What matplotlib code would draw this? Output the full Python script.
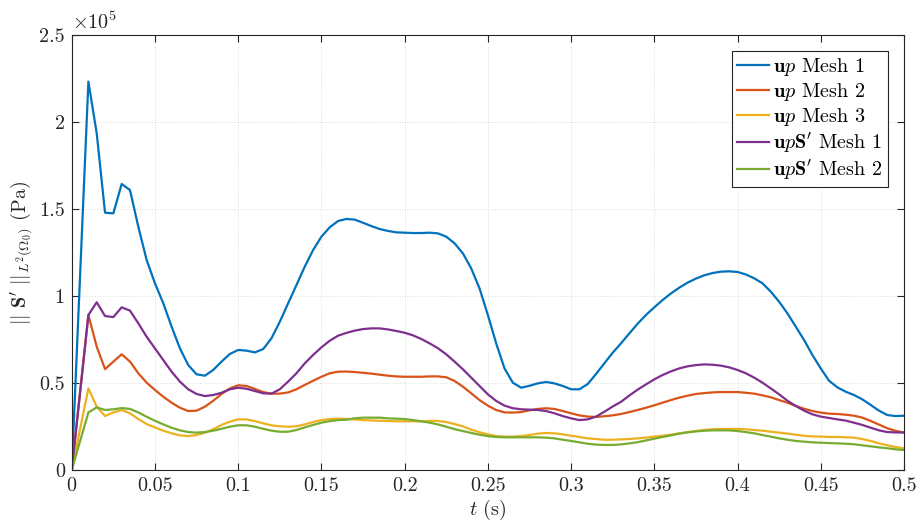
import numpy as np
import matplotlib
matplotlib.use("Agg")
import matplotlib.pyplot as plt

plt.rcParams['font.family'] = ['cmr10', 'DejaVu Serif']
plt.rcParams['mathtext.fontset'] = 'cm'
plt.rcParams['axes.formatter.use_mathtext'] = True
plt.rcParams['axes.unicode_minus'] = False

# time samples (s)
t = np.round(np.concatenate([[0.0], np.arange(0.01, 0.5001, 0.005)]), 3)

# values in units of 1e5 Pa
up_mesh1 = [0, 2.232, 1.935, 1.479, 1.475, 1.644, 1.609, 1.398, 1.207,
            1.073, 0.958, 0.824, 0.699, 0.603, 0.550, 0.542, 0.575, 0.623, 0.667,
            0.690, 0.686, 0.676, 0.695, 0.757, 0.852, 0.958, 1.063, 1.169, 1.264,
            1.341, 1.395, 1.431, 1.443, 1.439, 1.421, 1.402, 1.385, 1.374, 1.366,
            1.364, 1.362, 1.362, 1.364, 1.360, 1.341, 1.303, 1.245, 1.159, 1.044,
            0.891, 0.728, 0.584, 0.502, 0.473, 0.484, 0.498, 0.506, 0.498, 0.483,
            0.464, 0.464, 0.494, 0.552, 0.613, 0.674, 0.728, 0.785, 0.841, 0.891,
            0.935, 0.977, 1.015, 1.048, 1.077, 1.100, 1.119, 1.132, 1.140, 1.142,
            1.138, 1.124, 1.102, 1.073, 1.025, 0.967, 0.900, 0.824, 0.747, 0.661,
            0.584, 0.513, 0.475, 0.450, 0.431, 0.406, 0.374, 0.341, 0.316, 0.310,
            0.312]

up_mesh2 = [0, 0.891, 0.709, 0.580, 0.623, 0.665, 0.623, 0.556, 0.502,
            0.460, 0.421, 0.387, 0.358, 0.339, 0.341, 0.364, 0.398, 0.437, 0.469,
            0.487, 0.483, 0.466, 0.448, 0.439, 0.439, 0.446, 0.464, 0.489, 0.513,
            0.536, 0.556, 0.565, 0.566, 0.563, 0.559, 0.554, 0.548, 0.542, 0.538,
            0.536, 0.536, 0.536, 0.538, 0.538, 0.533, 0.512, 0.479, 0.441, 0.402,
            0.370, 0.345, 0.331, 0.330, 0.333, 0.343, 0.351, 0.355, 0.351, 0.339,
            0.326, 0.314, 0.307, 0.305, 0.309, 0.314, 0.322, 0.333, 0.345, 0.358,
            0.372, 0.387, 0.402, 0.416, 0.427, 0.437, 0.442, 0.446, 0.448, 0.448,
            0.448, 0.444, 0.439, 0.429, 0.418, 0.402, 0.387, 0.368, 0.352, 0.339,
            0.330, 0.324, 0.322, 0.318, 0.312, 0.301, 0.282, 0.261, 0.240, 0.225,
            0.215]

up_mesh3 = [0, 0.469, 0.364, 0.310, 0.331, 0.345, 0.326, 0.293, 0.264,
            0.245, 0.226, 0.211, 0.199, 0.195, 0.201, 0.215, 0.234, 0.259, 0.278,
            0.291, 0.291, 0.281, 0.268, 0.257, 0.251, 0.249, 0.251, 0.262, 0.276,
            0.287, 0.293, 0.295, 0.294, 0.291, 0.287, 0.285, 0.283, 0.282, 0.280,
            0.280, 0.280, 0.280, 0.282, 0.282, 0.276, 0.264, 0.251, 0.232, 0.217,
            0.205, 0.195, 0.192, 0.192, 0.195, 0.201, 0.209, 0.213, 0.211, 0.205,
            0.197, 0.190, 0.182, 0.178, 0.174, 0.174, 0.176, 0.178, 0.182, 0.186,
            0.192, 0.197, 0.203, 0.211, 0.218, 0.224, 0.230, 0.234, 0.236, 0.236,
            0.236, 0.234, 0.230, 0.226, 0.220, 0.215, 0.209, 0.203, 0.197, 0.193,
            0.192, 0.190, 0.190, 0.188, 0.186, 0.178, 0.167, 0.153, 0.142, 0.132,
            0.125]

upS_mesh1 = [0, 0.891, 0.964, 0.885, 0.879, 0.935, 0.916, 0.843, 0.766,
             0.699, 0.632, 0.565, 0.508, 0.464, 0.437, 0.425, 0.431, 0.444, 0.464,
             0.473, 0.467, 0.454, 0.441, 0.439, 0.464, 0.508, 0.556, 0.613, 0.661,
             0.705, 0.743, 0.772, 0.788, 0.801, 0.810, 0.814, 0.814, 0.808, 0.799,
             0.789, 0.774, 0.753, 0.728, 0.700, 0.665, 0.623, 0.579, 0.531, 0.483,
             0.435, 0.397, 0.370, 0.355, 0.349, 0.347, 0.345, 0.339, 0.326, 0.310,
             0.297, 0.287, 0.291, 0.307, 0.335, 0.365, 0.392, 0.428, 0.462, 0.492,
             0.521, 0.546, 0.567, 0.584, 0.596, 0.603, 0.607, 0.605, 0.600, 0.590,
             0.575, 0.556, 0.531, 0.502, 0.469, 0.435, 0.398, 0.368, 0.341, 0.320,
             0.307, 0.299, 0.291, 0.284, 0.272, 0.259, 0.243, 0.228, 0.218, 0.216,
             0.216]

upS_mesh2 = [0, 0.331, 0.360, 0.345, 0.349, 0.356, 0.351, 0.331, 0.306,
             0.283, 0.262, 0.243, 0.228, 0.218, 0.215, 0.218, 0.226, 0.237, 0.249,
             0.257, 0.257, 0.249, 0.237, 0.226, 0.220, 0.220, 0.230, 0.245, 0.259,
             0.272, 0.281, 0.287, 0.289, 0.297, 0.301, 0.301, 0.301, 0.297, 0.295,
             0.293, 0.287, 0.280, 0.272, 0.262, 0.249, 0.235, 0.224, 0.213, 0.203,
             0.195, 0.190, 0.188, 0.188, 0.188, 0.188, 0.188, 0.186, 0.182, 0.174,
             0.167, 0.159, 0.151, 0.146, 0.144, 0.144, 0.147, 0.153, 0.160, 0.170,
             0.180, 0.190, 0.199, 0.209, 0.216, 0.222, 0.226, 0.228, 0.228, 0.228,
             0.224, 0.218, 0.211, 0.201, 0.192, 0.182, 0.174, 0.167, 0.163, 0.159,
             0.157, 0.155, 0.153, 0.151, 0.148, 0.142, 0.136, 0.130, 0.125, 0.119,
             0.115]

labels = [r"$\mathbf{u}p$ Mesh 1", r"$\mathbf{u}p$ Mesh 2", r"$\mathbf{u}p$ Mesh 3",
          r"$\mathbf{u}p\mathbf{S}'$ Mesh 1", r"$\mathbf{u}p\mathbf{S}'$ Mesh 2"]
colors = ["#0072BD", "#D95319", "#EDB120", "#7E2F8E", "#77AC30"]

xticks = [0, 0.05, 0.1, 0.15, 0.2, 0.25, 0.3, 0.35, 0.4, 0.45, 0.5]
xticklabels = ["0", "0.05", "0.1", "0.15", "0.2", "0.25", "0.3", "0.35", "0.4", "0.45", "0.5"]
yticks = [0, 0.5, 1, 1.5, 2, 2.5]
yticklabels = ["0", "0.5", "1", "1.5", "2", "2.5"]

fs = 14.5
fig = plt.figure(figsize=(9.21, 5.29), dpi=100)
ax = fig.add_axes([0.0779, 0.1115, 0.9036, 0.8223])

series = [up_mesh1, up_mesh2, up_mesh3, upS_mesh1, upS_mesh2]
for y, c, lab in zip(series, colors, labels):
    ax.plot(t, y, color=c, lw=1.6, label=lab)

ax.set_xlim(0, 0.5)
ax.set_ylim(0, 2.5)
ax.set_xticks(xticks)
ax.set_xticklabels(xticklabels)
ax.set_yticks(yticks)
ax.set_yticklabels(yticklabels)

axcol = "#262626"
for s in ax.spines.values():
    s.set_color(axcol)
    s.set_linewidth(0.8)
ax.tick_params(direction='in', length=5, width=0.8, colors=axcol, labelsize=fs,
               top=True, right=True, pad=5)
ax.grid(True, linestyle=(0, (1, 2)), color="#d0d0d0", linewidth=0.6)

ax.set_xlabel(r"$t$ (s)", fontsize=fs, color=axcol, labelpad=2)
ax.set_ylabel(r"$||\ \mathbf{S}'\ ||_{L^2(\Omega_0)}$ (Pa)", fontsize=fs, color=axcol, labelpad=3)
ax.text(0.0, 1.004, r"$\times10^{5}$", transform=ax.transAxes, ha='left', va='bottom',
        fontsize=fs, color=axcol)

leg = ax.legend(loc='upper right', fontsize=fs, frameon=True, fancybox=False,
                edgecolor=axcol, framealpha=1, handlelength=1.6, handletextpad=0.2,
                borderpad=0.25, labelspacing=0.14, borderaxespad=0.8)
leg.get_frame().set_linewidth(0.8)

fig.savefig("out.png", dpi=100)
